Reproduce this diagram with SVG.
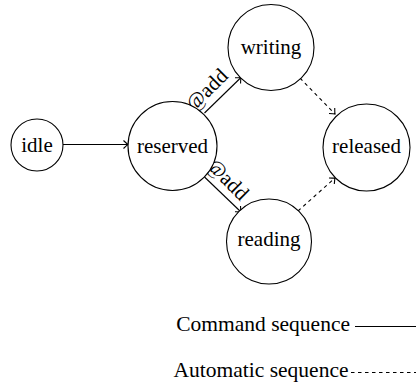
<svg xmlns="http://www.w3.org/2000/svg" width="416" height="382" viewBox="0 0 416 382">
<style>
.node circle{fill:#fff;stroke:#000;stroke-width:1.1}
text{font-family:"Liberation Serif","Times New Roman",serif;font-size:21px;fill:#000}
.node text{text-anchor:middle}
.edge{fill:none;stroke:#000;stroke-width:1.1}
.cmd{marker-end:url(#arr)}
.auto{stroke-dasharray:3.5 3.5;marker-end:url(#arr)}
.lbl{font-size:21px;text-anchor:middle}
.leg{font-size:21.5px;text-anchor:end}
</style>
<defs>
<marker id="arr" markerUnits="userSpaceOnUse" markerWidth="12" markerHeight="12" viewBox="-6 -6 12 12" refX="0" refY="0" orient="auto">
<path d="M-4.5,-4 Q-1.2,-0.8 0,0 Q-1.2,0.8 -4.5,4" fill="none" stroke="#000" stroke-width="1.1" stroke-dasharray="none"/>
</marker>
</defs>
<g id="connectors">
<path class="edge cmd" d="M63,144.5 L128,144.5"/>
<path class="edge cmd" d="M204.5,113 L241,77.5"/>
<path class="edge cmd" d="M204.5,177 L241,212"/>
<path class="edge auto" d="M300,78 L335,114"/>
<path class="edge auto" d="M298,211 L335,178"/>
<text class="lbl" transform="translate(211.5,94.6) rotate(-45)">@add</text>
<text class="lbl" transform="translate(222.9,184) rotate(45)">@add</text>
</g>
<g id="idle" class="node"><circle cx="37" cy="145" r="26"/><text x="37" y="152">idle</text></g>
<g id="reserved" class="node"><circle cx="172.5" cy="146" r="44.5"/><text x="172.5" y="152.5">reserved</text></g>
<g id="writing" class="node"><circle cx="271" cy="47.5" r="43"/><text x="271" y="53.5">writing</text></g>
<g id="reading" class="node"><circle cx="269" cy="241.5" r="42.5"/><text x="269" y="246">reading</text></g>
<g id="released" class="node"><circle cx="366.5" cy="147.5" r="43.5"/><text x="366.5" y="153">released</text></g>
<g id="legend">
<text class="leg" x="350" y="331">Command sequence</text>
<line class="edge" x1="355" y1="326.5" x2="416" y2="326.5"/>
<text class="leg" x="348.5" y="377">Automatic sequence</text>
<line class="edge" x1="351" y1="372.5" x2="416" y2="372.5" stroke-dasharray="3.5 3.5"/>
</g>
</svg>
